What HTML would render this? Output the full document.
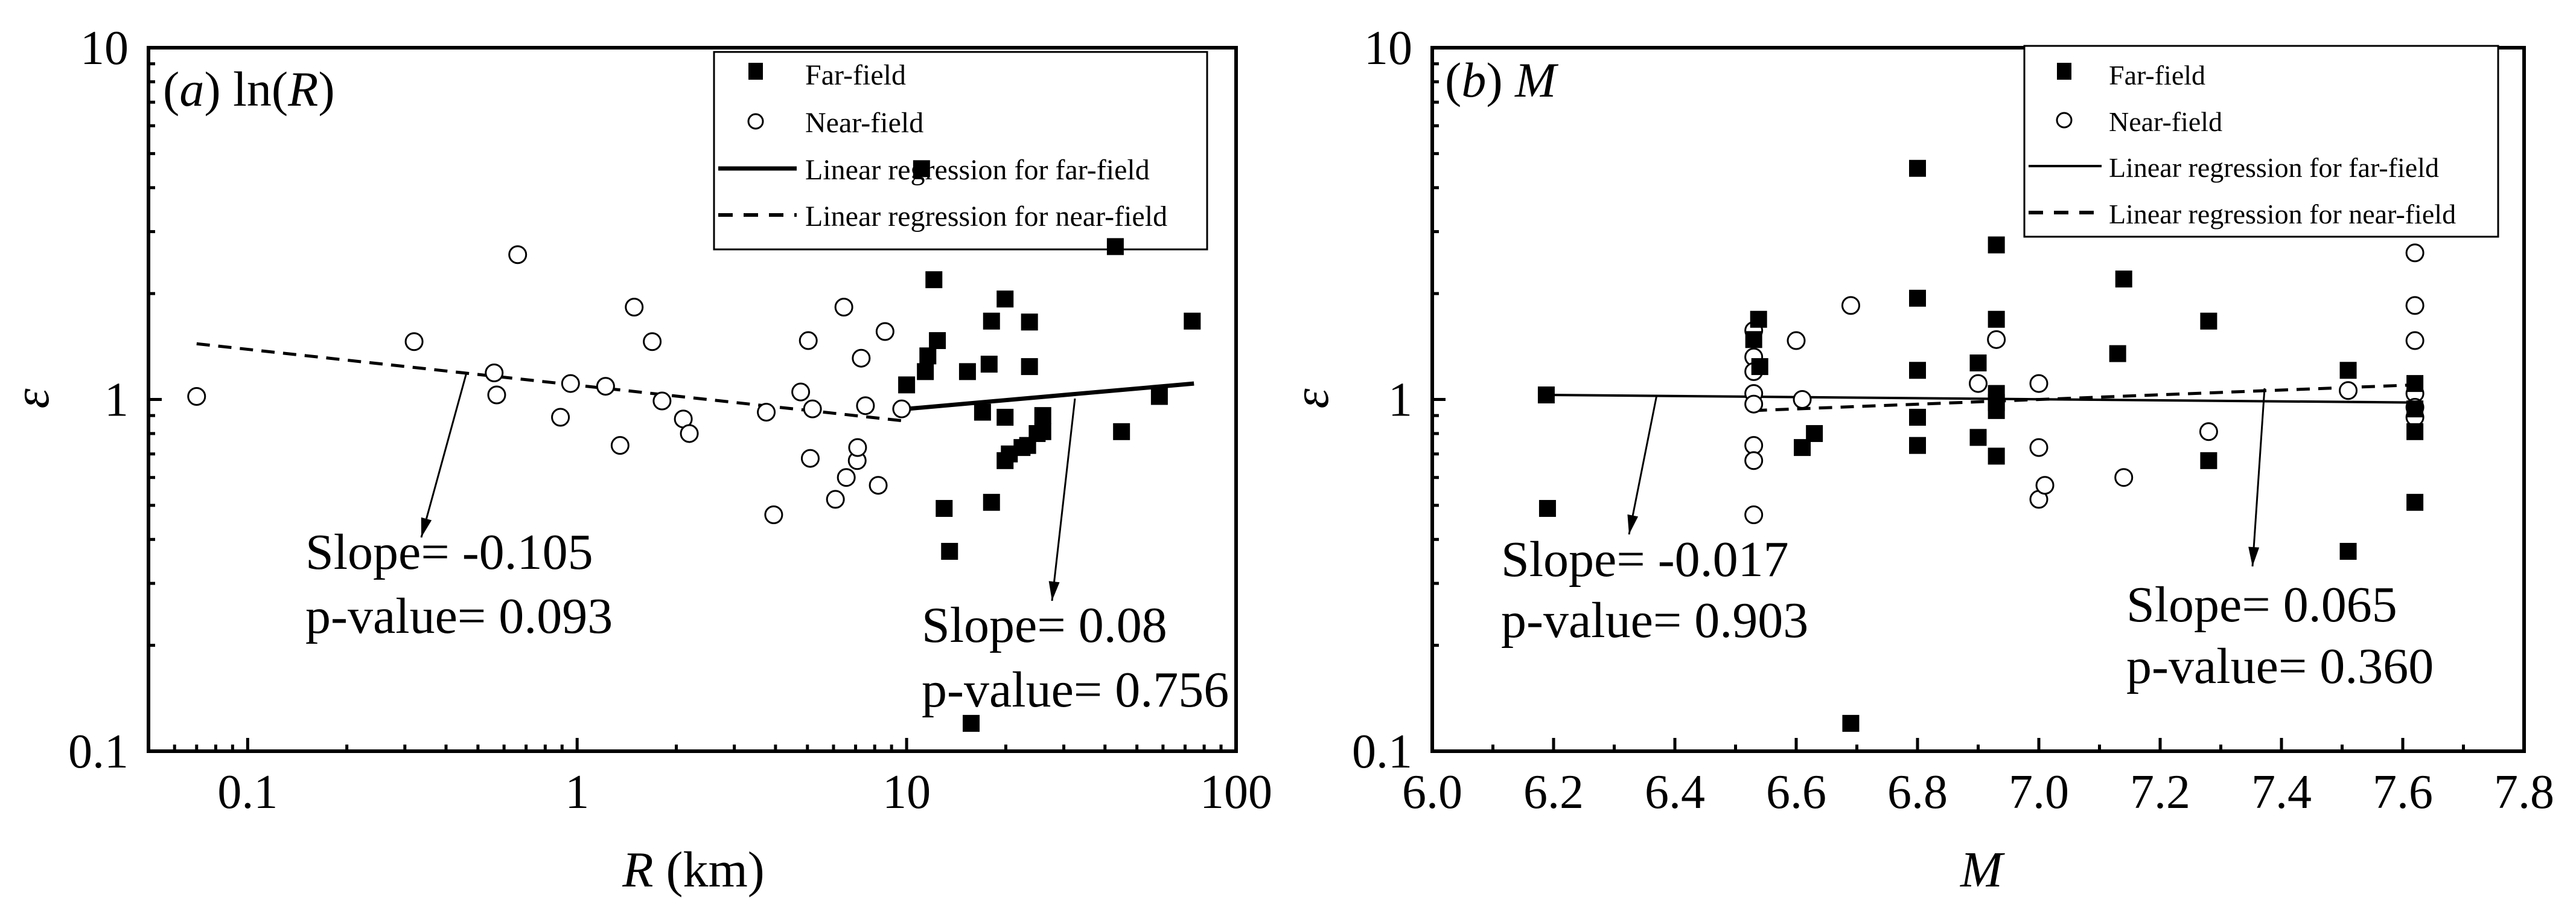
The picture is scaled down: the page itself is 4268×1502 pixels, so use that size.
<!DOCTYPE html>
<html><head><meta charset="utf-8"><style>html,body{margin:0;padding:0;background:#fff}svg{display:block}text{font-family:"Liberation Serif",serif;fill:#000}</style></head>
<body>
<svg id="chart" width="4268" height="1502" viewBox="0 0 4268 1502" xmlns="http://www.w3.org/2000/svg"></svg>
<script>
// ---- Panel (a) data ----
const aNearR=[0.07,0.32,0.66,0.56,0.57,0.89,0.955,1.22,1.35,1.49,1.69,1.81,2.1,2.19,3.75,3.95,4.77,5.03,5.18,5.1,6.08,6.45,6.56,7.08,7.1,7.28,7.5,8.2,8.6,9.66];
const aNearE=[1.02,1.46,2.58,1.19,1.03,0.89,1.11,1.09,0.74,1.83,1.46,0.99,0.88,0.80,0.92,0.47,1.05,1.47,0.94,0.68,0.52,1.83,0.60,0.67,0.73,1.31,0.96,0.57,1.56,0.94];
const aFarR=[11.1,12.1,12.4,11.6,11.4,10.0,13.0,13.5,15.3,15.7,18.1,17.8,18.1,17.0,19.9,19.9,19.9,20.5,22.4,23.3,23.6,23.6,24.9,25.9,25.9,43,44.9,58.5,73.6];
const aFarE=[4.53,2.19,1.47,1.33,1.20,1.10,0.49,0.37,1.20,0.12,1.67,1.26,0.51,0.92,1.93,0.89,0.67,0.70,0.73,0.74,1.66,1.24,0.80,0.81,0.90,2.72,0.81,1.02,1.67];
const aNearFitR=[0.07,9.7], aNearFitE=[1.44,0.87];
const aFarFitR=[10,74.5], aFarFitE=[0.94,1.11];
const aXTicks=[0.1,1,10,100], aXTickLabels=["0.1","1","10","100"];
// ---- Panel (b) data ----
const bFarM=[6.188,6.19,6.538,6.53,6.54,6.61,6.63,6.69,6.80,6.80,6.80,6.80,6.80,6.90,6.90,6.93,6.93,6.93,6.93,6.93,6.93,7.13,7.14,7.28,7.28,7.51,7.51,7.62,7.62,7.62,7.62];
const bFarE=[1.03,0.49,1.69,1.48,1.24,0.73,0.80,0.12,4.54,1.94,1.21,0.89,0.74,1.27,0.78,2.75,1.69,1.04,0.98,0.93,0.69,1.35,2.2,1.67,0.67,1.21,0.37,1.11,0.81,0.51,0.94];
const bNearM=[6.53,6.53,6.53,6.53,6.53,6.53,6.53,6.53,6.60,6.61,6.69,6.90,6.93,7.00,7.00,7.00,7.01,7.14,7.28,7.51,7.62,7.62,7.62,7.62,7.62,7.62];
const bNearE=[1.57,1.32,1.20,1.04,0.97,0.74,0.67,0.47,1.47,1.0,1.85,1.11,1.48,1.11,0.73,0.52,0.57,0.60,0.81,1.06,2.61,1.85,1.47,1.04,0.95,0.89];
const bFarFitM=[6.19,7.62], bFarFitE=[1.03,0.98];
const bNearFitM=[6.53,7.62], bNearFitE=[0.93,1.10];
const bXTicks=[6.0,6.2,6.4,6.6,6.8,7.0,7.2,7.4,7.6,7.8];
const bXTickLabels=["6.0","6.2","6.4","6.6","6.8","7.0","7.2","7.4","7.6","7.8"];
const yTicks=[0.1,1,10], yTickLabels=["0.1","1","10"];

const NS="http://www.w3.org/2000/svg";
const svg=document.getElementById('chart');
function mk(tag,attrs,parent,txt){const e=document.createElementNS(NS,tag);for(const k in attrs)e.setAttribute(k,attrs[k]);if(txt!==undefined)e.textContent=txt;(parent||svg).appendChild(e);return e;}

const TOP=79,BOT=1244;
function yS(v){return BOT-(Math.log10(v)+1)/2*(BOT-TOP);}

function panel(cfg){
  const g=mk('g',{});
  
  
  const L=cfg.L,R=cfg.R,xS=cfg.xS;
  for(let d=-1;d<1;d++)for(let k=2;k<=9;k++){const y=yS(k*Math.pow(10,d));
    const t=mk('line',{x1:L,x2:L+11,y1:y,y2:y,stroke:'#000','stroke-width':5},g);
    }
  yTicks.forEach((v,i)=>{const y=yS(v);
    const t=mk('line',{x1:L,x2:L+22,y1:y,y2:y,stroke:'#000','stroke-width':5},g);
    
    const tx=mk('text',{x:L-33,y:y+27,'text-anchor':'end','font-size':80},g,yTickLabels[i]);
    });
  cfg.minorX.forEach(v=>{const x=xS(v);
    const t=mk('line',{x1:x,x2:x,y1:BOT,y2:BOT-11,stroke:'#000','stroke-width':5},g);
    });
  cfg.xTicks.forEach((v,i)=>{const x=xS(v);
    const t=mk('line',{x1:x,x2:x,y1:BOT,y2:BOT-22,stroke:'#000','stroke-width':5},g);
    
    const tx=mk('text',{x:x,y:1338,'text-anchor':'middle','font-size':80},g,cfg.xLabels[i]);
    });
  const fr=mk('rect',{x:L,y:TOP,width:R-L,height:BOT-TOP,fill:'none',stroke:'#000','stroke-width':6},g);
  
  // legend (drawn before points so points overlay it)
  const lg=cfg.lg;
  const lb=mk('rect',{x:lg.x,y:lg.y,width:lg.w,height:lg.h,fill:'#fff',stroke:'#000','stroke-width':3},g);
  
  const names=['Far-field','Near-field','Linear regression for far-field','Linear regression for near-field'];
  lg.rows.forEach((by,i)=>{
    if(i===0){const m=mk('rect',{x:lg.mx-12,y:by-36,width:24,height:28,fill:'#000'},g);}
    if(i===1){const m=mk('circle',{cx:lg.mx,cy:by-18,r:12,fill:'#fff',stroke:'#000','stroke-width':3},g);}
    if(i===2){const m=mk('line',{x1:lg.l1,x2:lg.l2,y1:by-18,y2:by-18,stroke:'#000','stroke-width':cfg.fw},g);}
    if(i===3){const m=mk('line',{x1:lg.l1,x2:lg.l2,y1:by-18,y2:by-18,stroke:'#000','stroke-width':6,'stroke-dasharray':'24,18'},g);}
    const t=mk('text',{x:lg.tx,y:by,'font-size':lg.fs},g,names[i]);
    });
  const nf=mk('line',{x1:xS(cfg.nfx[0]),y1:yS(cfg.nfy[0]),x2:xS(cfg.nfx[1]),y2:yS(cfg.nfy[1]),stroke:'#000','stroke-width':5,'stroke-dasharray':'22,14'},g);
  
  const ff=mk('line',{x1:xS(cfg.ffx[0]),y1:yS(cfg.ffy[0]),x2:xS(cfg.ffx[1]),y2:yS(cfg.ffy[1]),stroke:'#000','stroke-width':cfg.fw},g);
  
  cfg.nx.forEach((v,i)=>{const c=mk('circle',{cx:xS(v),cy:yS(cfg.ny[i]),r:14,fill:'#fff',stroke:'#000','stroke-width':3},g);
    });
  cfg.fx.forEach((v,i)=>{const s=mk('rect',{x:xS(v)-14,y:yS(cfg.fy[i])-14,width:28,height:28,fill:'#000'},g);
    });
  cfg.arrows.forEach(a=>{const [x1,y1,x2,y2]=a;
    const l=mk('line',{x1:x1,y1:y1,x2:x2,y2:y2,stroke:'#000','stroke-width':3},g);
    
    const ang=Math.atan2(y2-y1,x2-x1),h=32,w=9;
    const bx=x2-h*Math.cos(ang),by=y2-h*Math.sin(ang);
    const p=mk('polygon',{points:`${x2},${y2} ${bx+w*Math.sin(ang)},${by-w*Math.cos(ang)} ${bx-w*Math.sin(ang)},${by+w*Math.cos(ang)}`,fill:'#000'},g);
    });
  cfg.notes.forEach(n=>{const t=mk('text',{x:n[0],y:n[1],'font-size':84},g,n[2]);
    });
  const ti=mk('text',{x:cfg.title[0],y:cfg.title[1],'font-size':82},g);
  
  ti.innerHTML=cfg.titleHTML;
  const yl=mk('text',{x:0,y:0,'font-size':84,'font-style':'italic','text-anchor':'middle',transform:`translate(${cfg.yl},660) rotate(-90)`},g,'ε');
  
  const xl=mk('text',{x:cfg.xl,y:1468,'font-size':84,'text-anchor':'middle'},g);
  
  xl.innerHTML=cfg.xlHTML;
}

// Panel a
const aL=246,aR=2048;
const aXS=v=>aL+(Math.log10(v)-Math.log10(0.05))/(2-Math.log10(0.05))*(aR-aL);
const aMinor=[];[0.01,0.1,1,10].forEach(d=>{for(let k=2;k<=9;k++){const v=k*d;if(v>0.05&&v<100&&Math.abs(v-0.1)>1e-9)aMinor.push(v);}});
panel({name:'panel-a',L:aL,R:aR,xS:aXS,minorX:aMinor,xTicks:aXTicks,xLabels:aXTickLabels,
  nfx:aNearFitR,nfy:aNearFitE,ffx:aFarFitR,ffy:aFarFitE,fw:7,
  nx:aNearR,ny:aNearE,fx:aFarR,fy:aFarE,
  arrows:[[773,617,698,890],[1781,660,1743,995]],
  notes:[[506,942,'Slope= -0.105'],[506,1048,'p-value= 0.093'],[1527,1063,'Slope= 0.08'],[1527,1170,'p-value= 0.756']],
  lg:{x:1183,y:86,w:817,h:327,rows:[140,219,297,374],mx:1252,tx:1334,l1:1190,l2:1320,fs:48},
  title:[270,175],titleHTML:'(<tspan font-style="italic">a</tspan>) ln(<tspan font-style="italic">R</tspan>)',
  yl:80,xl:1149,xlHTML:'<tspan font-style="italic">R</tspan> (km)'});

// Panel b
const bL=2373,bR=4182;
const bXS=v=>bL+(v-6.0)/1.8*(bR-bL);
const bMinor=[];for(let i=0;i<9;i++)bMinor.push(6.1+0.2*i);
panel({name:'panel-b',L:bL,R:bR,xS:bXS,minorX:bMinor,xTicks:bXTicks,xLabels:bXTickLabels,
  nfx:bNearFitM,nfy:bNearFitE,ffx:bFarFitM,ffy:bFarFitE,fw:4,
  nx:bNearM,ny:bNearE,fx:bFarM,fy:bFarE,
  arrows:[[2745,654,2699,885],[3752,643,3732,938]],
  notes:[[2487,954,'Slope= -0.017'],[2487,1055,'p-value= 0.903'],[3523,1029,'Slope= 0.065'],[3523,1131,'p-value= 0.360']],
  lg:{x:3354,y:76,w:785,h:316,rows:[140,217,293,370],mx:3420,tx:3494,l1:3361,l2:3482,fs:46},
  title:[2394,160],titleHTML:'(<tspan font-style="italic">b</tspan>) <tspan font-style="italic">M</tspan>',
  yl:2200,xl:3283,xlHTML:'<tspan font-style="italic">M</tspan>'});
</script>
</body></html>
